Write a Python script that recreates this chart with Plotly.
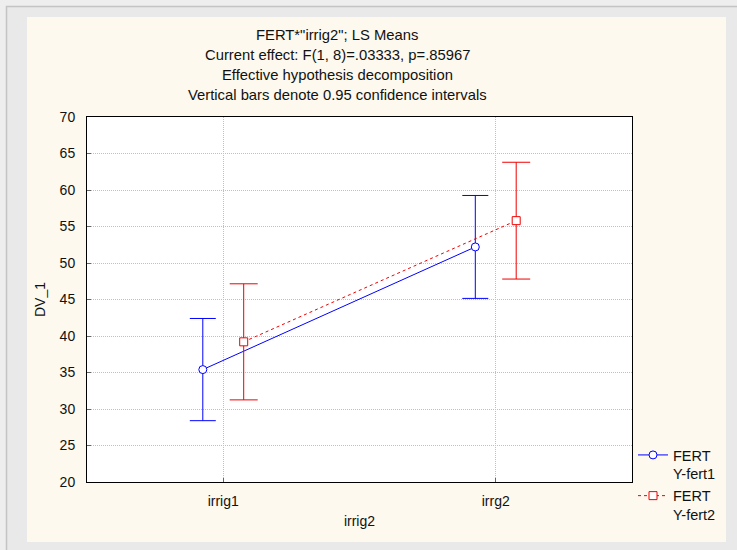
import numpy as np
import plotly.graph_objects as go

# ---- data ----
categories = ["irrig1", "irrg2"]
fert1_means = [35.4, 52.2]
fert1_ci = [7.0, 7.05]
fert2_means = [39.2, 55.8]
fert2_ci = [7.95, 8.0]
series_names = ["FERT<br>Y-fert1", "FERT<br>Y-fert2"]
title_lines = [
    'FERT*"irrig2"; LS Means',
    "Current effect: F(1, 8)=.03333, p=.85967",
    "Effective hypothesis decomposition",
    "Vertical bars denote 0.95 confidence intervals",
]
y_ticks = [20, 25, 30, 35, 40, 45, 50, 55, 60, 65, 70]

FONT = "Liberation Sans, Arial, sans-serif"
BLUE = "#0000ff"
RED = "#f00000"

idx = np.arange(len(categories))
dodge = 0.075

fig = go.Figure()
fig.add_trace(go.Scatter(
    x=idx - dodge, y=fert1_means, name=series_names[0],
    mode="lines+markers",
    line=dict(color=BLUE, width=1),
    marker=dict(symbol="circle", size=8, color="white", line=dict(color=BLUE, width=1)),
    error_y=dict(type="data", array=fert1_ci, visible=True, color=BLUE, thickness=1, width=13),
))
fig.add_trace(go.Scatter(
    x=idx + dodge, y=fert2_means, name=series_names[1],
    mode="lines+markers",
    line=dict(color=RED, width=1, dash="dot"),
    marker=dict(symbol="square", size=8, color="white", line=dict(color=RED, width=1)),
    error_y=dict(type="data", array=fert2_ci, visible=True, color=RED, thickness=1, width=14),
))

# plot-area geometry in pixels (for paper conversions)
W, H = 737, 550
L, R, T, B = 87, 105, 117, 68
pw, ph = W - L - R, H - T - B
def px(x):
    return (x - L) / pw
def py(y):
    return (H - B - y) / ph

shapes = [
    # outer frame line
    dict(type="rect", xref="paper", yref="paper", x0=px(6.5), x1=px(760), y0=py(570), y1=py(6.5),
         line=dict(color="#c4c4c4", width=1.5), fillcolor="#e9e9e9", layer="below"),
    # cream panel
    dict(type="rect", xref="paper", yref="paper", x0=px(27), x1=px(726), y0=py(542), y1=py(17),
         line=dict(width=0), fillcolor="#fdf9ee", layer="below"),
    # white plot area
    dict(type="rect", xref="paper", yref="paper", x0=0, x1=1, y0=0, y1=1,
         line=dict(width=0), fillcolor="white", layer="below"),
]

annotations = []
for i, t in enumerate(title_lines):
    annotations.append(dict(
        text=t, xref="paper", yref="paper", x=px(337), y=py(35 + 20 * i),
        xanchor="center", yanchor="middle", showarrow=False,
        font=dict(family=FONT, size=14.8, color="#111111"),
    ))

fig.update_layout(
    width=W, height=H, autosize=False,
    margin=dict(l=L, r=R, t=T, b=B, pad=0),
    paper_bgcolor="#eeeeee",
    plot_bgcolor="white",
    font=dict(family=FONT, size=14, color="#111111"),
    shapes=shapes,
    annotations=annotations,
    showlegend=True,
    legend=dict(
        x=px(633), y=py(439), xanchor="left", yanchor="top",
        bgcolor="rgba(0,0,0,0)", font=dict(family=FONT, size=14.5, color="#111111"),
        itemwidth=30, valign="top", tracegroupgap=0,
    ),
    xaxis=dict(
        range=[-0.5, 1.5], tickmode="array", tickvals=idx, ticktext=categories,
        showgrid=True, gridcolor="#c0c0c0", griddash="1px,1px", gridwidth=1,
        zeroline=False, showline=True, linecolor="black", linewidth=1, mirror=True,
        ticks="inside", ticklen=4, tickcolor="#666666", ticklabelstandoff=6,
        title=dict(text="irrig2", standoff=8, font=dict(family=FONT, size=14)),
    ),
    yaxis=dict(
        range=[20, 70], tickmode="array", tickvals=y_ticks,
        showgrid=True, gridcolor="#c0c0c0", griddash="1px,1px", gridwidth=1,
        zeroline=False, showline=True, linecolor="black", linewidth=1, mirror=True,
        ticks="inside", ticklen=4, tickcolor="#666666", ticklabelstandoff=8,
        title=dict(text="DV_1", standoff=10, font=dict(family=FONT, size=14)),
    ),
)

fig.write_html(
    "out.html",
    config={"displayModeBar": False},
    post_script="document.body.style.margin='0';document.body.style.overflow='hidden';"
                "document.body.style.background='#eeeeee';",
)
